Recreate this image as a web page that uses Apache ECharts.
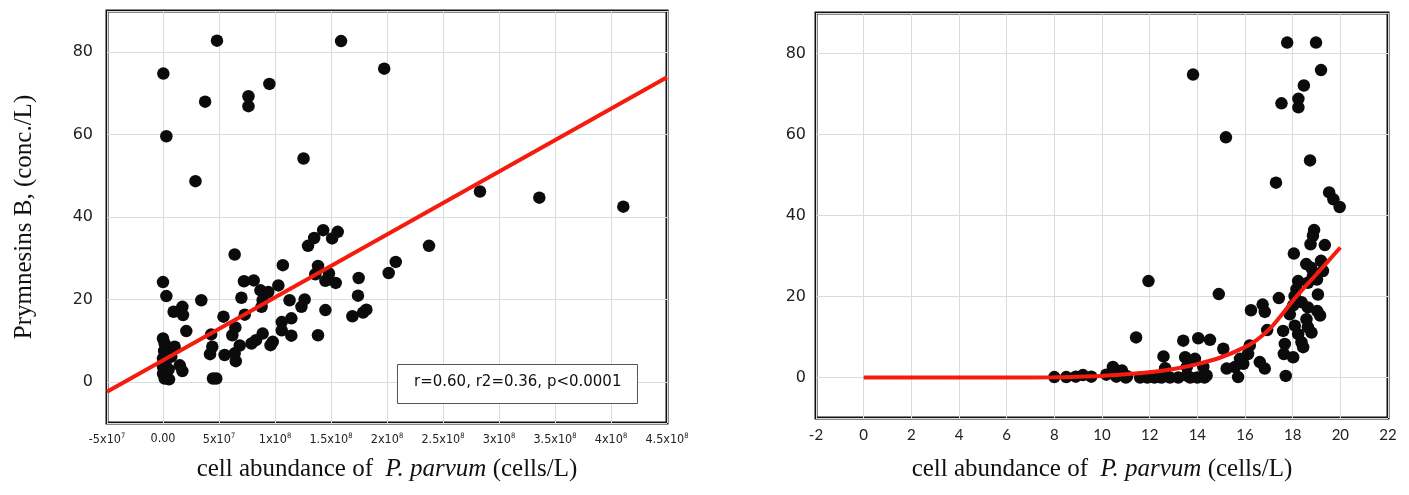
<!DOCTYPE html>
<html>
<head>
<meta charset="utf-8">
<script src="https://cdn.jsdelivr.net/npm/echarts@6/dist/echarts.min.js"></script>
<style>
html,body{margin:0;padding:0;background:#fff;}
#c{width:1409px;height:495px;}
</style>
</head>
<body>
<div id="c"></div>
<script>
// ---------- data ----------
const leftX = [4.82e7,1.59e8,0.3e6,1.975e8,9.5e7,3.76e7,7.63e7,7.63e7,0.3e7,1.255e8,2.9e7,2.83e8,3.36e8,4.11e8,
  1.43e8,1.56e8,1.35e8,1.51e8,1.295e8,2.375e8,6.4e7,2.078e8,1.07e8,1.384e8,2.015e8,1.36e8,1.482e8,1.45e8,1.542e8,1.747e8,
  0,7.23e7,8.1e7,1.03e8,8.7e7,9.4e7,0.3e7,3.42e7,7.0e7,1.741e8,1.13e8,1.265e8,8.9e7,1.236e8,8.8e7,
  0.95e7,1.73e7,1.79e7,1.45e8,1.816e8,1.786e8,1.691e8,5.4e7,7.3e7,1.146e8,1.06e8,6.46e7,2.08e7,4.3e7,6.19e7,8.9e7,1.06e8,1.146e8,1.384e8,
  0,0.15e7,1.04e7,4.4e7,6.85e7,7.9e7,8.3e7,9.6e7,9.8e7,4.2e7,5.5e7,6.4e7,6.5e7,0.3e7,0,0.74e7,1.5e7,1.73e7,0,0,0.15e7,0.54e7,4.46e7,4.76e7,
  0.2e7,0.5e7,0.1e7];
const leftY = [82.8,82.7,74.8,76.0,72.3,68.0,69.3,66.9,59.6,54.2,48.7,46.2,44.7,42.5,
  36.8,36.4,34.9,34.8,33.0,33.0,30.9,29.1,28.3,28.1,26.4,26.1,26.3,24.5,24.0,25.2,
  24.2,24.4,24.6,23.4,22.2,21.8,20.8,19.8,20.4,20.9,19.8,20.0,19.8,18.2,18.2,
  17.0,18.2,16.2,17.4,17.5,16.8,15.9,15.8,16.3,15.4,14.5,13.2,12.3,11.5,11.3,11.7,12.5,11.2,11.3,
  10.5,9.3,8.5,8.5,8.8,9.3,10.1,8.9,9.7,6.7,6.5,6.9,5.0,6.5,5.7,6.1,4.0,2.6,3.6,2.0,0.8,0.6,0.8,0.8,
  4.5,3.0,7.5];
const leftFitX = [-5e7, 4.5e8];
const leftFitY = [-2.4, 73.9];

const rightX = [17.77,18.98,19.19,13.82,18.47,18.24,18.24,17.53,15.2,18.73,17.3,19.53,19.71,19.97,
  18.9,18.85,18.75,19.35,18.05,19.19,18.57,18.78,19.27,18.23,18.64,18.85,19.02,18.16,11.95,14.9,17.42,18.08,19.06,
  18.37,18.02,16.74,16.83,16.25,17.88,18.64,19.03,19.15,18.58,18.64,18.79,18.09,18.23,18.37,18.44,17.6,17.67,17.63,18.02,17.71,
  16.93,16.2,16.13,15.79,15.93,15.58,15.23,15.09,15.71,16.62,16.83,13.41,14.04,14.53,13.49,13.9,13.56,14.25,14.39,13.56,
  11.43,12.58,12.65,10.46,10.84,10.18,11.05,8.0,8.5,8.9,9.2,9.55,10.6,11.0,11.6,11.9,12.2,12.5,12.85,13.2,13.7,14.0,14.3,12.0,12.4];
const rightY = [82.7,82.7,75.9,74.8,72.1,68.8,66.7,67.7,59.3,53.6,48.1,45.7,44.0,42.1,
  36.4,35.0,32.9,32.7,30.6,28.8,28.0,27.1,26.3,23.8,23.4,25.0,24.2,21.8,23.8,20.6,19.6,20.1,20.5,
  18.6,17.8,18.0,16.2,16.6,15.6,17.3,16.4,15.3,14.4,12.4,11.1,12.8,10.7,8.7,7.5,11.5,8.3,5.8,5.0,0.4,
  11.7,7.9,5.8,4.6,3.4,2.6,2.2,7.1,0.1,3.8,2.2,9.1,9.7,9.3,5.0,4.6,2.6,2.6,0.5,0.5,
  9.9,5.2,2.3,2.6,1.7,0.7,0.3,0.1,0.1,0.2,0.6,0.2,0.2,0.0,0,0,0,0,0,0,0,0,0,0.2,0.1];
const curveX = [0,2,4,6,8,9,10,11,12,13,14,15,16,16.5,17,17.5,18,18.5,19,19.5,20];
const curveY = [0,0,0,0,0.05,0.2,0.4,0.8,1.3,2.1,3.3,5.0,7.5,9.3,11.8,15.2,18.9,22.3,25.5,28.8,32.1];

const leftXTickBase = ['-5x10','0.00','5x10','1x10','1.5x10','2x10','2.5x10','3x10','3.5x10','4x10','4.5x10'];
const leftXTickExp  = ['7','','7','8','8','8','8','8','8','8','8'];
const statsText = 'r=0.60, r2=0.36, p<0.0001';
const xTitle = '{n|cell abundance of  }{i|P. parvum}{n| (cells/L)}';
const yTitle = 'Prymnesins B, (conc./L)';

// ---------- chart ----------
const zip = (a, b) => a.map((v, i) => [v, b[i]]);
const chart = echarts.init(document.getElementById('c'), null, {renderer: 'canvas'});
const serif = "'Liberation Serif', 'DejaVu Serif', serif";
const tickFont = "'DejaVu Sans', Verdana, sans-serif";
const condFont = "'DejaVu Sans Condensed', 'Liberation Sans Narrow', sans-serif";
const splitCol = '#d3dfdf';
const titleRich = {
  n: {fontFamily: serif, fontSize: 25, color: '#111'},
  i: {fontFamily: serif, fontSize: 25, fontStyle: 'italic', color: '#111'}
};
const yLabelFmt = v => (Math.round(v) % 20 === 0 ? String(Math.round(v)) : '');

chart.setOption({
  animation: false,
  backgroundColor: '#fff',
  grid: [
    {left: 107, top: 11, width: 560, height: 412, show: true, borderColor: '#111', borderWidth: 3, backgroundColor: 'transparent'},
    {left: 816, top: 13, width: 572, height: 405, show: true, borderColor: '#111', borderWidth: 3, backgroundColor: 'transparent'}
  ],
  xAxis: [
    {gridIndex: 0, type: 'value', min: -5e7, max: 4.5e8, interval: 5e7,
     axisLine: {show: false}, axisTick: {show: false},
     splitLine: {show: true, lineStyle: {color: splitCol, width: 1}},
     axisLabel: {margin: 9, color: '#222',
       formatter: v => {
         const i = Math.round((v + 5e7) / 5e7);
         return leftXTickExp[i] ? '{b|' + leftXTickBase[i] + '}{s|' + leftXTickExp[i] + '}' : '{b|' + leftXTickBase[i] + '}';
       },
       rich: {
         b: {fontFamily: condFont, fontSize: 12.5, color: '#222'},
         s: {fontFamily: condFont, fontSize: 7.5, color: '#222', padding: [0, 0, 8, 0]}
       }},
     name: xTitle, nameLocation: 'middle', nameGap: 34,
     nameTextStyle: {rich: titleRich}},
    {gridIndex: 1, type: 'value', min: -2, max: 22, interval: 2,
     axisLine: {show: false}, axisTick: {show: false},
     splitLine: {show: true, lineStyle: {color: splitCol, width: 1}},
     axisLabel: {margin: 10, color: '#222', fontFamily: "Lato, 'Open Sans', sans-serif", fontSize: 15},
     name: xTitle, nameLocation: 'middle', nameGap: 39,
     nameTextStyle: {rich: titleRich}}
  ],
  yAxis: [
    {gridIndex: 0, type: 'value', min: -10, max: 90, splitNumber: 5,
     axisLine: {show: false}, axisTick: {show: false},
     splitLine: {show: true, lineStyle: {color: splitCol, width: 1}},
     axisLabel: {margin: 14, color: '#222', fontFamily: tickFont, fontSize: 16, formatter: yLabelFmt, showMinLabel: false, showMaxLabel: false},
     name: yTitle, nameLocation: 'middle', nameGap: 70, nameRotate: 90,
     nameTextStyle: {fontFamily: serif, fontSize: 25, color: '#111'}},
    {gridIndex: 1, type: 'value', min: -10, max: 90, splitNumber: 5,
     axisLine: {show: false}, axisTick: {show: false},
     splitLine: {show: true, lineStyle: {color: splitCol, width: 1}},
     axisLabel: {margin: 10, color: '#222', fontFamily: tickFont, fontSize: 16, formatter: yLabelFmt, showMinLabel: false, showMaxLabel: false}}
  ],
  series: [
    {type: 'scatter', xAxisIndex: 0, yAxisIndex: 0, data: zip(leftX, leftY),
     symbolSize: 12.5, itemStyle: {color: '#0b0b0b', opacity: 1}, z: 2},
    {type: 'line', xAxisIndex: 0, yAxisIndex: 0, data: zip(leftFitX, leftFitY),
     showSymbol: false, symbol: 'none', lineStyle: {color: '#f51b0f', width: 4}, z: 3},
    {type: 'scatter', xAxisIndex: 1, yAxisIndex: 1, data: zip(rightX, rightY),
     symbolSize: 12.5, itemStyle: {color: '#0b0b0b', opacity: 1}, z: 2},
    {type: 'line', xAxisIndex: 1, yAxisIndex: 1, data: zip(curveX, curveY), smooth: 0.4,
     showSymbol: false, symbol: 'none', lineStyle: {color: '#f51b0f', width: 4}, z: 3}
  ],
  graphic: [
    {type: 'rect', left: 397, top: 364, z: 100,
     shape: {x: 0, y: 0, width: 240, height: 39},
     style: {fill: '#fff', stroke: '#555', lineWidth: 1}},
    {type: 'text', left: 414, top: 375, z: 101,
     style: {text: statsText, fill: '#111', font: "15px 'DejaVu Sans', Verdana, sans-serif"}}
  ]
});
</script>
</body>
</html>
